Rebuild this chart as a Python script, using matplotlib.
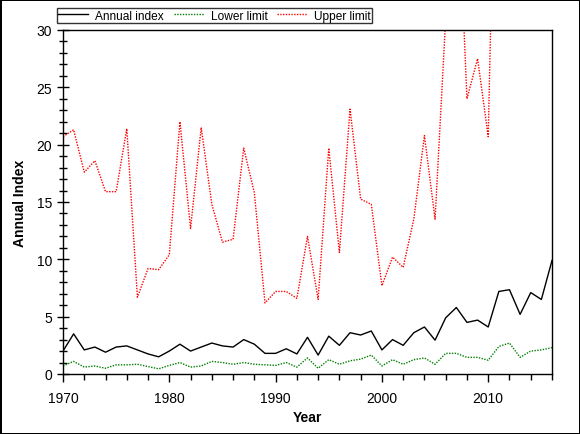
import matplotlib.pyplot as plt
from matplotlib.ticker import MultipleLocator

plt.rcParams['font.family'] = ['Liberation Sans', 'DejaVu Sans']

years = list(range(1970, 2017))

annual_index = [2.0, 3.5, 2.1, 2.35, 1.9, 2.35, 2.45, 2.1, 1.75, 1.5,
                2.0, 2.6, 2.0, 2.35, 2.7, 2.45, 2.35, 3.0, 2.6, 1.8,
                1.8, 2.2, 1.75, 3.2, 1.65, 3.3, 2.5, 3.6, 3.4, 3.75,
                2.1, 3.0, 2.5, 3.6, 4.1, 2.95, 4.9, 5.8, 4.5, 4.7,
                4.1, 7.2, 7.35, 5.2, 7.1, 6.5, 9.9]

lower_limit = [0.7, 1.1, 0.6, 0.7, 0.5, 0.8, 0.8, 0.85, 0.65, 0.45,
               0.75, 1.0, 0.6, 0.7, 1.1, 1.0, 0.85, 1.0, 0.85, 0.8,
               0.75, 1.0, 0.6, 1.4, 0.5, 1.25, 0.85, 1.15, 1.3, 1.65,
               0.7, 1.25, 0.85, 1.25, 1.4, 0.85, 1.8, 1.8, 1.45, 1.45,
               1.2, 2.4, 2.7, 1.45, 2.0, 2.1, 2.3]

upper_limit = [20.7, 21.3, 17.6, 18.6, 15.9, 15.9, 21.4, 6.7, 9.2, 9.1,
               10.4, 22.0, 12.7, 21.5, 14.8, 11.5, 11.75, 19.7, 15.8, 6.2,
               7.2, 7.2, 6.6, 12.0, 6.5, 19.7, 10.6, 23.1, 15.25, 14.8,
               7.7, 10.2, 9.3, 13.5, 20.8, 13.5, 31.0, 46.0, 24.0, 27.5,
               20.7, 63.0, 48.0, 40.0, 45.0, 42.0, 55.0]

fig = plt.figure(figsize=(5.8, 4.35), dpi=100)
fig.patch.set_edgecolor('black')
fig.patch.set_linewidth(2)
ax = fig.add_axes([63 / 580, 1 - 375 / 435, (552 - 63) / 580, (375 - 31) / 435])

dot = (0, (1, 1))
ax.plot(years, annual_index, color='black', lw=1, label='Annual index')
ax.plot(years, lower_limit, color='#008000', lw=1, ls=dot, label='Lower limit')
ax.plot(years, upper_limit, color='red', lw=1, ls=dot, label='Upper limit')

ax.set_xlim(1970, 2016)
ax.set_ylim(0, 30)
ax.xaxis.set_major_locator(MultipleLocator(10))
ax.xaxis.set_minor_locator(MultipleLocator(2))
ax.yaxis.set_major_locator(MultipleLocator(5))
ax.yaxis.set_minor_locator(MultipleLocator(1))
ax.tick_params(axis='x', which='major', direction='out', length=6, width=1, labelsize=10, pad=6)
ax.tick_params(axis='x', which='minor', direction='out', length=4, width=1)
ax.tick_params(axis='y', which='major', direction='inout', length=8, width=1, labelsize=10, pad=4)
ax.tick_params(axis='y', which='minor', direction='inout', length=6, width=1)
for s in ax.spines.values():
    s.set_linewidth(1)

ax.set_xlabel('Year', fontsize=10, fontweight='bold', labelpad=4)
ax.set_ylabel('Annual Index', fontsize=10, fontweight='bold', labelpad=7)

leg = fig.legend(loc='lower left', bbox_to_anchor=(57 / 580, 1 - 24 / 435), ncol=3,
                 fontsize=8.6, frameon=True, fancybox=False, handlelength=2.5,
                 handletextpad=0.6, columnspacing=0.8, borderpad=0.12,
                 borderaxespad=0)
leg.get_frame().set_edgecolor('black')
leg.get_frame().set_linewidth(1)

fig.savefig('out.png', dpi=100)
